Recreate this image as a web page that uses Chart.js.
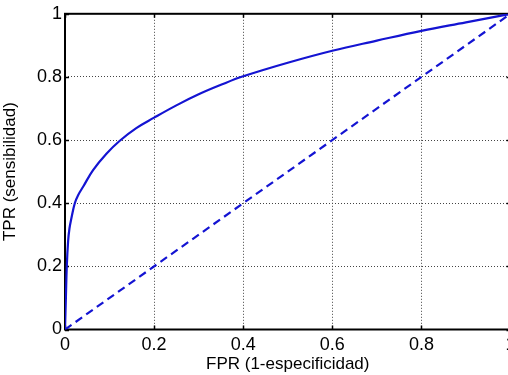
<!DOCTYPE html>
<html>
<head>
<meta charset="utf-8">
<script src="https://cdn.jsdelivr.net/npm/chart.js@4.4.0/dist/chart.umd.min.js"></script>
<style>
    html, body { margin: 0; padding: 0; background: #fff; overflow: hidden; }
    #wrap { width: 530px; height: 375px; }
</style>
</head>
<body>
<div id="wrap"><canvas id="rocChart" width="530" height="375"></canvas></div>
<script>
// ROC curve values
const fprValues = [0, 0.002, 0.004, 0.007, 0.01, 0.014, 0.022, 0.03, 0.041, 0.063, 0.093, 0.123, 0.16, 0.2, 0.25, 0.3, 0.35, 0.4, 0.5, 0.6, 0.7, 0.8, 0.9, 1];
const tprValues = [0, 0.1, 0.2, 0.28, 0.32, 0.35, 0.4, 0.427, 0.453, 0.505, 0.557, 0.598, 0.638, 0.671, 0.71, 0.745, 0.775, 0.802, 0.845, 0.883, 0.915, 0.946, 0.973, 1];

// chance line
const chanceX = [0, 1];
const chanceY = [0, 1];

const xTickValues = [0, 0.2, 0.4, 0.6, 0.8, 1];
const yTickValues = [0, 0.2, 0.4, 0.6, 0.8, 1];

const xTitle = 'FPR (1-especificidad)';
const yTitle = 'TPR (sensibilidad)';

function toPoints(xs, ys) {
    return xs.map((x, i) => ({ x: x, y: ys[i] }));
}

function tickText(v) {
    return String(Math.round(v * 10) / 10);
}

const lineColor = '#1414d2';
const fontFamily = '"Liberation Sans", Arial, sans-serif';

// frame + inward tick marks like the original figure
const framePlugin = {
    id: 'frame',
    beforeDatasetsDraw(chart) {
        const { ctx, chartArea: a, scales } = chart;
        ctx.save();
        ctx.strokeStyle = '#000';
        ctx.lineWidth = 1.5;
        ctx.beginPath();
        xTickValues.forEach(v => {
            const px = Math.round(scales.x.getPixelForValue(v)) + 0.5;
            ctx.moveTo(px, a.bottom);
            ctx.lineTo(px, a.bottom - 4);
            ctx.moveTo(px, a.top);
            ctx.lineTo(px, a.top + 4);
        });
        yTickValues.forEach(v => {
            const py = Math.round(scales.y.getPixelForValue(v)) + 0.5;
            ctx.moveTo(a.left, py);
            ctx.lineTo(a.left + 4, py);
            ctx.moveTo(a.right, py);
            ctx.lineTo(a.right - 4, py);
        });
        ctx.stroke();
        ctx.lineWidth = 2;
        ctx.strokeRect(a.left, a.top, a.right - a.left, a.bottom - a.top);
        ctx.restore();
    }
};

new Chart(document.getElementById('rocChart').getContext('2d'), {
    type: 'scatter',
    data: {
        datasets: [{
            data: toPoints(fprValues, tprValues),
            showLine: true,
            borderColor: lineColor,
            borderWidth: 2.2,
            pointRadius: 0,
            tension: 0.4,
            fill: false
        }, {
            data: toPoints(chanceX, chanceY),
            showLine: true,
            borderColor: lineColor,
            borderWidth: 2.2,
            borderDash: [8, 5],
            pointRadius: 0,
            fill: false
        }]
    },
    options: {
        responsive: false,
        animation: false,
        layout: { padding: { top: 13, right: 19.5, left: 0, bottom: 0 } },
        plugins: {
            legend: { display: false },
            tooltip: { enabled: false }
        },
        scales: {
            x: {
                type: 'linear',
                min: 0,
                max: 1,
                afterBuildTicks: scale => { scale.ticks = xTickValues.map(v => ({ value: v })); },
                afterFit: scale => { scale.height = 45.5; },
                border: { display: false, dash: [1, 2] },
                grid: {
                    color: '#444',
                    lineWidth: 1,
                    drawTicks: false
                },
                ticks: {
                    color: '#000',
                    padding: 5,
                    maxRotation: 0,
                    callback: v => tickText(v),
                    font: { family: fontFamily, size: 18 }
                },
                title: {
                    display: true,
                    text: xTitle,
                    color: '#000',
                    padding: { top: -2, bottom: 0 },
                    font: { family: fontFamily, size: 17 }
                }
            },
            y: {
                type: 'linear',
                min: 0,
                max: 1,
                afterBuildTicks: scale => { scale.ticks = yTickValues.map(v => ({ value: v })); },
                afterFit: scale => { scale.width = 65; },
                border: { display: false, dash: [1, 2] },
                grid: {
                    color: '#444',
                    lineWidth: 1,
                    drawTicks: false
                },
                ticks: {
                    color: '#000',
                    padding: 3,
                    callback: v => tickText(v),
                    font: { family: fontFamily, size: 18 }
                },
                title: {
                    display: true,
                    text: yTitle,
                    color: '#000',
                    padding: { top: 0, bottom: 4 },
                    font: { family: fontFamily, size: 17 }
                }
            }
        }
    },
    plugins: [framePlugin]
});
</script>
</body>
</html>
